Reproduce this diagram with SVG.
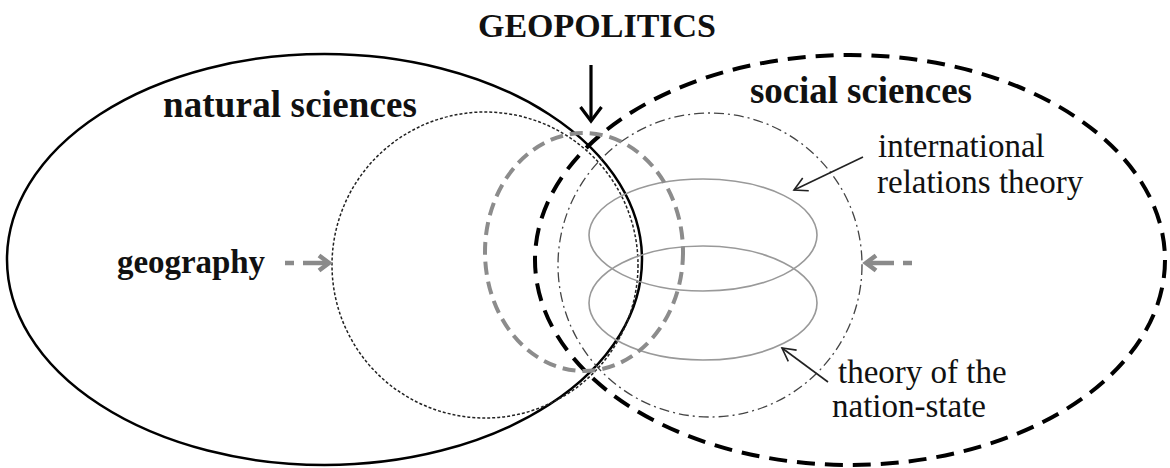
<svg xmlns="http://www.w3.org/2000/svg" width="1170" height="468" viewBox="0 0 1170 468">
<style>
.bold{font-family:"Liberation Serif","Times New Roman",serif;font-weight:bold;fill:#111}
.reg{font-family:"Liberation Serif","Times New Roman",serif;fill:#111;font-size:33px}
.nat{fill:none;stroke:#000;stroke-width:2.5}
.soc{fill:none;stroke:#000;stroke-width:4;stroke-dasharray:18 10}
.geo{fill:none;stroke:#222;stroke-width:1.5;stroke-dasharray:3 2}
.gp{fill:none;stroke:#8c8c8c;stroke-width:4;stroke-dasharray:13 7}
.dd{fill:none;stroke:#444;stroke-width:1.3;stroke-dasharray:10 4 2 4}
.th{fill:none;stroke:#999;stroke-width:1.6}
.garrow{fill:none;stroke:#8a8a8a;stroke-width:4.5}
.ptr{fill:none;stroke:#222;stroke-width:1.6}
</style>
<defs>
<marker id="openHead" markerUnits="userSpaceOnUse" markerWidth="20" markerHeight="20" refX="14" refY="8" orient="auto" viewBox="0 0 20 16">
<path d="M1,1 L14,8 L1,15" fill="none" stroke="#222" stroke-width="1.6"/>
</marker>
</defs>
<rect width="1170" height="468" fill="#fff"/>
<g id="natural-sciences">
<ellipse class="nat" cx="324.5" cy="259.5" rx="317.5" ry="205.5"/>
<text class="bold" x="163" y="117" font-size="37" textLength="254">natural sciences</text>
</g>
<g id="social-sciences">
<ellipse class="soc" cx="850" cy="260" rx="315" ry="205"/>
<text class="bold" x="750" y="103" font-size="37" textLength="222">social sciences</text>
</g>
<g id="geography">
<circle class="geo" cx="485" cy="265" r="153"/>
<text class="bold" x="117" y="273" font-size="33" textLength="148">geography</text>
</g>
<g id="social-circle">
<circle class="dd" cx="710" cy="265" r="152"/>
</g>
<g id="international-relations-theory">
<ellipse class="th" cx="703" cy="235" rx="114" ry="56"/>
<text class="reg" x="878" y="157">international</text>
<text class="reg" x="877" y="193">relations theory</text>
</g>
<g id="theory-of-the-nation-state">
<ellipse class="th" cx="703" cy="303" rx="114" ry="57"/>
<text class="reg" x="838" y="383">theory of the</text>
<text class="reg" x="832" y="417">nation-state</text>
</g>
<g id="geopolitics">
<ellipse class="gp" cx="584" cy="252" rx="99" ry="119"/>
<text class="bold" x="597" y="37" font-size="34" text-anchor="middle">GEOPOLITICS</text>
</g>
<g id="connectors">
<line x1="591" y1="65" x2="591" y2="120" stroke="#000" stroke-width="3.2"/>
<path d="M580.5,107 L591,121 L601.5,107" fill="none" stroke="#000" stroke-width="3.2"/>
<line class="garrow" x1="285" y1="263" x2="294" y2="263"/>
<line class="garrow" x1="303" y1="263" x2="328" y2="263"/>
<path class="garrow" d="M319,255.5 L329,263 L319,270.5"/>
<line class="garrow" x1="912" y1="263" x2="903" y2="263"/>
<line class="garrow" x1="894" y1="263" x2="868" y2="263"/>
<path class="garrow" d="M876,255.5 L866,263 L876,270.5"/>
<line class="ptr" x1="863" y1="157" x2="794" y2="190" marker-end="url(#openHead)"/>
<line class="ptr" x1="828" y1="382" x2="782" y2="348" marker-end="url(#openHead)"/>
</g>
</svg>
